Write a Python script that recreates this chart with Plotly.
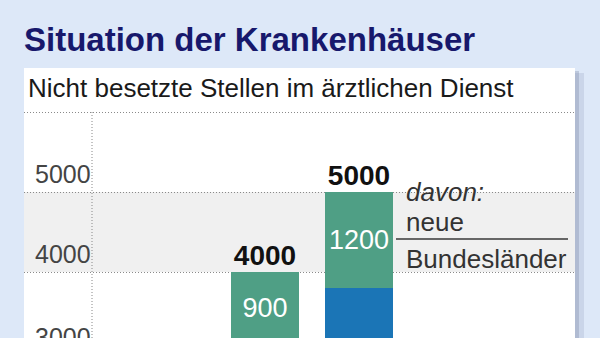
import plotly.graph_objects as go

# ---- data ----
positions = [1, 2]                 # bar slots (x tick labels not visible in the crop)
totals = [4000, 5000]
neue_bl = [900, 1200]              # davon: neue Bundesländer
rest = [t - n for t, n in zip(totals, neue_bl)]
y_ticks = [3000, 4000, 5000, 6000]
y_tick_text = ["3000", "4000", "5000", ""]

title = "Situation der Krankenhäuser"
subtitle = "Nicht besetzte Stellen im ärztlichen Dienst"

W, H = 600, 338
BG = "#dde8f8"
GREEN = "#4f9f85"
BLUE = "#1b75b6"
NAVY = "#17186c"
SANS = "Liberation Sans, Arial, sans-serif"
Y_RANGE = [3175, 6050]

def px(x):
    return x / W

def py(y):
    return 1 - y / H

fig = go.Figure()
fig.add_trace(go.Bar(x=positions, y=rest, marker=dict(color=BLUE, line=dict(width=0)),
                     width=0.723, hoverinfo="skip"))
fig.add_trace(go.Bar(x=positions, y=neue_bl, marker=dict(color=GREEN, line=dict(width=0)),
                     width=0.723, text=[str(v) for v in neue_bl], textposition="inside",
                     insidetextanchor="middle",
                     textfont=dict(family=SANS, size=27, color="white"),
                     hoverinfo="skip"))
fig.add_trace(go.Scatter(x=positions, y=totals, mode="text",
                         text=[f"<b>{v}</b>" for v in totals],
                         textposition="top center",
                         textfont=dict(family=SANS, size=28, color="#111111"),
                         hoverinfo="skip"))

shapes = [
    # shadow of white panel
    dict(type="rect", xref="paper", yref="paper", x0=px(575), x1=px(584), y0=-0.1, y1=py(73),
         fillcolor="rgba(160,170,200,0.30)", line=dict(width=0), layer="below"),
    dict(type="rect", xref="paper", yref="paper", x0=px(575), x1=px(579), y0=-0.1, y1=py(71),
         fillcolor="rgba(130,140,170,0.35)", line=dict(width=0), layer="below"),
    # white panel
    dict(type="rect", xref="paper", yref="paper", x0=px(24), x1=px(575), y0=-0.1, y1=py(68),
         fillcolor="white", line=dict(width=0), layer="below"),
    # gray band 4000-5000
    dict(type="rect", xref="paper", yref="y", x0=px(24), x1=px(575), y0=4000, y1=5000,
         fillcolor="#f0f0f0", line=dict(width=0), layer="below"),
    # vertical dotted axis line
    dict(type="line", xref="paper", yref="y", x0=px(92), x1=px(92), y0=Y_RANGE[0], y1=6000,
         line=dict(color="#888888", width=1, dash="1px,2px"), layer="below"),
    # separator line of legend
    dict(type="line", xref="paper", yref="paper", x0=px(396), x1=px(568), y0=py(239), y1=py(239),
         line=dict(color="#666666", width=2)),
]

annotations = [
    dict(text=f"<b>{title}</b>", xref="paper", yref="paper", x=px(22), y=py(39),
         xanchor="left", yanchor="middle", showarrow=False,
         font=dict(family=SANS, size=33, color=NAVY)),
    dict(text=subtitle, xref="paper", yref="paper", x=px(26), y=py(88),
         xanchor="left", yanchor="middle", showarrow=False,
         font=dict(family=SANS, size=26, color="#1a1a1a")),
    dict(text="<i>davon:</i>", xref="paper", yref="paper", x=px(404), y=py(192),
         xanchor="left", yanchor="middle", showarrow=False,
         font=dict(family=SANS, size=26, color="#333333")),
    dict(text="neue", xref="paper", yref="paper", x=px(404), y=py(222),
         xanchor="left", yanchor="middle", showarrow=False,
         font=dict(family=SANS, size=26, color="#333333")),
    dict(text="Bundesländer", xref="paper", yref="paper", x=px(404), y=py(259),
         xanchor="left", yanchor="middle", showarrow=False,
         font=dict(family=SANS, size=26, color="#333333")),
    # lowest tick label, whose gridline lies just below the cropped picture
    dict(text=y_tick_text[0], xref="paper", yref="paper", x=px(33), y=py(337),
         xanchor="left", yanchor="middle", showarrow=False,
         font=dict(family=SANS, size=25, color="#444444")),
]

fig.update_layout(
    width=W, height=H, margin=dict(l=0, r=0, t=0, b=0),
    paper_bgcolor=BG, plot_bgcolor="rgba(0,0,0,0)",
    barmode="stack", bargap=0, showlegend=False,
    shapes=shapes, annotations=annotations,
    xaxis=dict(domain=[px(24), px(575)], range=[-1.564, 4.298],
               showgrid=False, zeroline=False, showline=False,
               showticklabels=False, ticks="", fixedrange=True),
    yaxis=dict(domain=[0, py(108)], range=Y_RANGE,
               tickvals=y_ticks, ticktext=y_tick_text,
               ticklabelposition="inside top", ticklabelstandoff=8,
               tickfont=dict(family=SANS, size=25, color="#444444"),
               showgrid=True, gridcolor="#8a8a8a", gridwidth=1, griddash="1px,2px",
               zeroline=False, showline=False, ticks="", fixedrange=True),
)

fig.write_html("out.html")
